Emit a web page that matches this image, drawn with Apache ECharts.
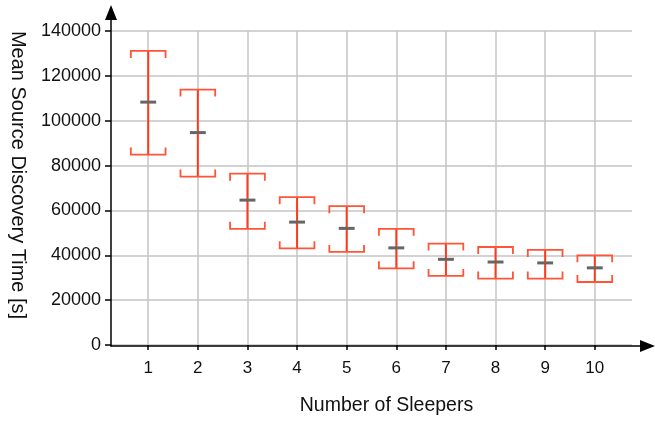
<!DOCTYPE html>
<html>
<head>
<meta charset="utf-8">
<script src="https://cdn.jsdelivr.net/npm/echarts@6/dist/echarts.min.js"></script>
<style>html,body{margin:0;padding:0;background:#fff}#c{width:655px;height:421px}</style>
</head>
<body>
<div id="c"></div>
<script>
var sleepers = [1, 2, 3, 4, 5, 6, 7, 8, 9, 10];
var meanTime = [108300, 94700, 64600, 54800, 52000, 43300, 38200, 37000, 36600, 34400];
var lowTime = [84900, 75100, 51800, 43100, 41500, 34200, 30800, 29600, 29600, 28100];
var highTime = [131100, 113900, 76400, 65900, 61900, 51800, 45200, 43700, 42400, 40000];
var yTicks = [0, 20000, 40000, 60000, 80000, 100000, 120000, 140000];

var data = sleepers.map(function (s, i) { return [s, lowTime[i], highTime[i], meanTime[i]]; });
var red = '#ff3a1c';
var capRed = '#ff5436';

function renderItem(params, api) {
  var x = api.value(0);
  var lo = api.coord([x, api.value(1)]);
  var hi = api.coord([x, api.value(2)]);
  var mn = api.coord([x, api.value(3)]);
  var unit = api.size([1, 0])[0];
  var hw = unit * 0.35;
  var mw = unit * 0.16;
  var tk = 7;
  var cx = lo[0];
  return {
    type: 'group',
    children: [
      { type: 'line', shape: { x1: cx, y1: hi[1], x2: cx, y2: lo[1] }, style: { stroke: red, lineWidth: 2 } },
      { type: 'polyline', shape: { points: [[cx - hw, hi[1] + tk], [cx - hw, hi[1]], [cx + hw, hi[1]], [cx + hw, hi[1] + tk]] }, style: { stroke: capRed, lineWidth: 1.8, fill: null } },
      { type: 'polyline', shape: { points: [[cx - hw, lo[1] - tk], [cx - hw, lo[1]], [cx + hw, lo[1]], [cx + hw, lo[1] - tk]] }, style: { stroke: capRed, lineWidth: 1.8, fill: null } },
      { type: 'line', shape: { x1: cx - mw, y1: mn[1], x2: cx + mw, y2: mn[1] }, style: { stroke: '#666666', lineWidth: 3 } }
    ]
  };
}

var font = 'Liberation Sans, Arial, sans-serif';
var chart = echarts.init(document.getElementById('c'));
chart.setOption({
  animation: false,
  grid: [
    { left: 111, top: 31, width: 521, height: 315 },
    { left: 111, top: 12.5, right: 7.5, bottom: 75 }
  ],
  xAxis: [
    {
      type: 'value', gridIndex: 0, min: 0.25, max: 10.75,
      name: 'Number of Sleepers', nameLocation: 'middle', nameGap: 51,
      nameTextStyle: { fontSize: 19.5, color: '#111', fontFamily: font, padding: [0, 0, 0, 30] },
      axisLine: { show: false },
      axisTick: { show: true, customValues: sleepers, length: 5, lineStyle: { color: '#000', width: 1.5 } },
      axisLabel: { customValues: sleepers, fontSize: 17, color: '#111', margin: 15, fontFamily: font },
      splitLine: { show: true, lineStyle: { color: '#c4c4c4', width: 1.5 } }
    },
    {
      type: 'value', gridIndex: 1, min: 0, max: 1,
      axisLine: { show: true, onZero: false, symbol: ['none', 'triangle'], symbolSize: [12, 15], lineStyle: { color: '#000', width: 1.5 } },
      axisTick: { show: false }, axisLabel: { show: false }, splitLine: { show: false }
    }
  ],
  yAxis: [
    {
      type: 'value', gridIndex: 0, min: 0, max: 140000, interval: 20000,
      name: 'Mean Source Discovery Time [s]', nameLocation: 'middle', nameGap: 83, nameRotate: -90,
      nameTextStyle: { fontSize: 20, color: '#111', fontFamily: font, padding: [0, 26, 0, 0] },
      axisLine: { show: false },
      axisTick: { show: true, length: 6, lineStyle: { color: '#000', width: 1.5 } },
      axisLabel: { fontSize: 18, color: '#111', margin: 10, fontFamily: font,
        customValues: yTicks, formatter: function (v) { return String(v); } },
      splitLine: { show: true, lineStyle: { color: '#c4c4c4', width: 1.5 } }
    },
    {
      type: 'value', gridIndex: 1, min: 0, max: 1,
      axisLine: { show: true, onZero: false, symbol: ['none', 'triangle'], symbolSize: [12, 15], lineStyle: { color: '#000', width: 1.5 } },
      axisTick: { show: false }, axisLabel: { show: false }, splitLine: { show: false }
    }
  ],
  series: [{
    type: 'custom', xAxisIndex: 0, yAxisIndex: 0,
    renderItem: renderItem, data: data, clip: false,
    encode: { x: 0, y: [1, 2, 3] }
  }]
});
</script>
</body>
</html>
